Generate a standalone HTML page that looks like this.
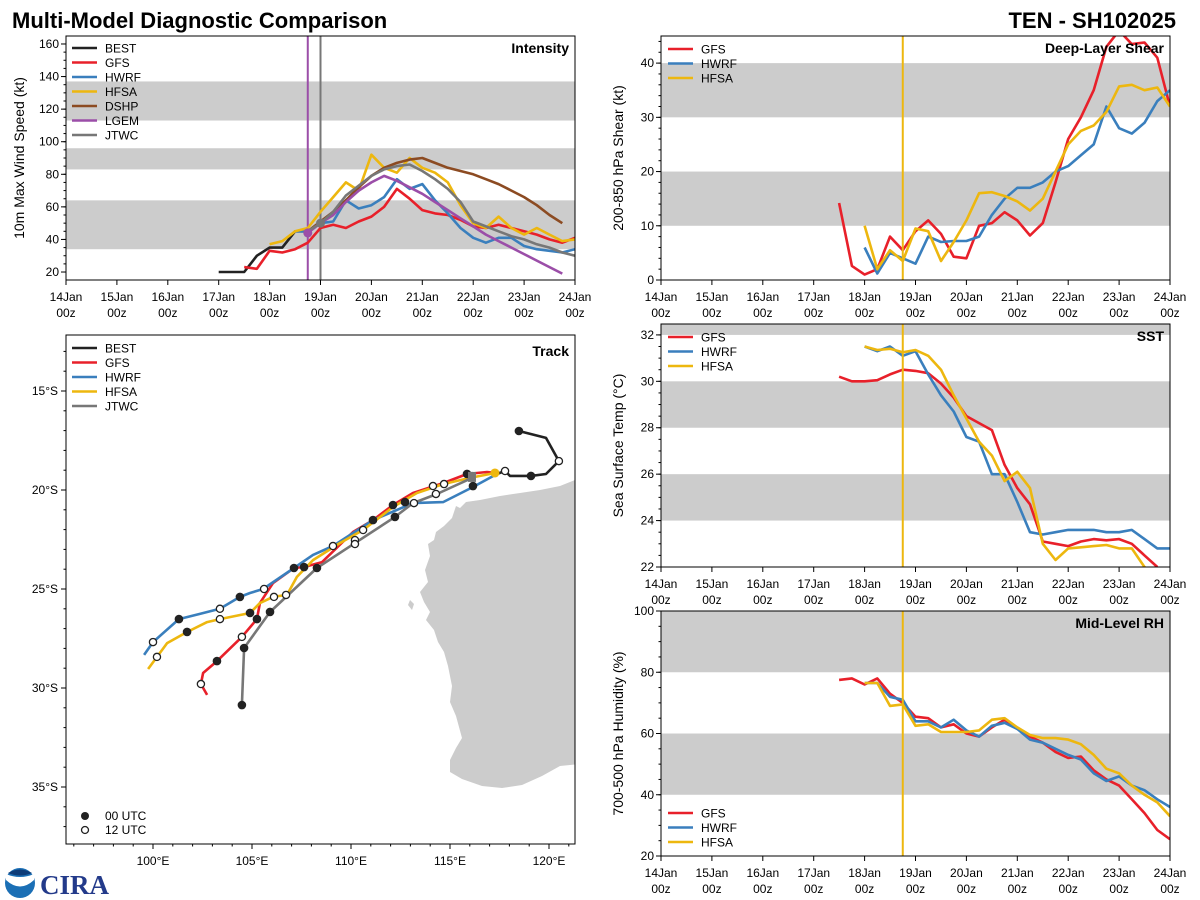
<!DOCTYPE html>
<html><head><meta charset="utf-8"><title>Multi-Model Diagnostic Comparison</title>
<style>
html,body{margin:0;padding:0;background:#fff;}
svg{display:block;font-family:"Liberation Sans",sans-serif;}
</style></head>
<body>
<svg id="root" width="1200" height="900" viewBox="0 0 1200 900" xmlns="http://www.w3.org/2000/svg">
<text x="12" y="28" font-size="22" font-weight="bold" fill="#000">Multi-Model Diagnostic Comparison</text>
<text x="1176" y="28" font-size="22" font-weight="bold" fill="#000" text-anchor="end">TEN - SH102025</text>
<g>
<circle cx="20" cy="883" r="15" fill="#1b6fb5"/>
<path d="M6,880 Q20,893 34,880 L34,874 Q20,880 6,874 Z" fill="#fff"/>
<path d="M8,873 Q20,866 32,873 Q20,878 8,873 Z" fill="#0d3c78"/>
<text x="40" y="894" font-size="27" font-weight="bold" fill="#233a8a" font-family="Liberation Serif, serif">CIRA</text>
</g>
</svg>
<script>
// ---------- DATA ----------
const dayLabels = ["14Jan","15Jan","16Jan","17Jan","18Jan","19Jan","20Jan","21Jan","22Jan","23Jan","24Jan"];
const bestIntStart = 3.0;
const bestInt = [20,20,20,30,35,35,45,45];
const gfsIntStart = 3.5;
const gfsInt = [23,22,33,32,34,38,47,49,47,51,54,60,71,65,58,56,55,52,48,47,49,47,45,43,40,38,41];
const hwrfIntStart = 4.5;
const hwrfInt = [45,45,50,51,64,59,61,66,77,71,74,64,56,47,41,38,41,41,36,34,33,32,34];
const hfsaIntStart = 4.0;
const hfsaInt = [37,39,45,47,57,66,75,70,92,84,81,90,84,81,75,61,50,47,54,47,43,47,43,39,40];
const dshpIntStart = 4.75;
const dshpInt = [45,51,57,64,72,79,84,87,89,90,87,84,82,80,77,74,70,66,61,55,50];
const lgemIntStart = 4.75;
const lgemInt = [44,50,55,63,70,75,79,76,72,68,63,58,53,48,43,39,35,31,27,23,19];
const jtwcIntStart = 4.75;
const jtwcInt = [45,50,57,67,73,79,83,85,86,82,77,71,63,51,48,45,42,40,37,35,32,30];
const gfsShearStart = 3.5;
const gfsShear = [14.2,2.6,1.0,2,8,5.5,9,11,8.5,4.3,4,10,10.5,12.5,11,8.2,10.5,18,26,30,35,43,46,43.5,43.8,41,32];
const hwrfShearStart = 4.0;
const hwrfShear = [6,1.2,5,4,3,8,7,7.2,7.2,8,12,15,17,17,18,20,21,23,25,32,28,27,29,33,35];
const hfsaShearStart = 4.0;
const hfsaShear = [10,2,5.5,3.5,9.5,9,3.5,7,11,16,16.2,15.5,14.5,12.8,15,20,25,27.5,28.5,31,35.7,36,35,35.5,32];
const gfsSstStart = 3.5;
const gfsSst = [30.2,30.0,30.0,30.05,30.3,30.5,30.45,30.35,29.9,29.3,28.5,28.2,27.9,26.4,25.4,24.7,23.1,23.0,22.9,23.1,23.2,23.15,23.2,23.0,22.5,22.0];
const hwrfSstStart = 4.0;
const hwrfSst = [31.5,31.3,31.5,31.1,31.3,30.3,29.4,28.7,27.6,27.4,26.0,26.0,24.8,23.5,23.4,23.5,23.6,23.6,23.6,23.5,23.5,23.6,23.2,22.8,22.8];
const hfsaSstStart = 4.0;
const hfsaSst = [31.5,31.35,31.4,31.25,31.35,31.1,30.5,29.4,28.4,27.4,26.8,25.7,26.1,25.4,23.0,22.3,22.8,22.85,22.9,22.95,22.8,22.8,22.0,21.5];
const gfsRhStart = 3.5;
const gfsRh = [77.5,78,76,78,73,70,65.5,65,62,63,60,59,62,64.5,61.5,59,57,54,52,52.5,48,45,43,38.5,34,28.5,25.5];
const hwrfRhStart = 4.0;
const hwrfRh = [76.5,76.5,72,71,64,64,62,64.5,61,59,62.5,63.5,61.5,58,57,55,53,51.5,47,44.5,46,43,41.5,38.5,36];
const hfsaRhStart = 4.0;
const hfsaRh = [76.5,76.5,69,69.5,62.5,63,60.5,60.5,60.5,61,64.5,65,62,59.5,58.5,58.5,58,56.5,53,48.5,47,43,40,37.5,33];
const bestLon = [118.48,119.85,120.5,119.85,119.09,118.03,117.78,117.37];
const bestLat = [17.02,17.37,18.54,19.19,19.29,19.29,19.04,19.19];
const gfsLon = [117.37,116.87,115.86,114.65,113.13,112.12,111.11,110.10,108.54,107.63,107.12,106.06,105.40,105.25,104.49,103.23,102.53,102.42,102.73];
const gfsLat = [19.14,19.09,19.19,19.65,20.15,20.76,21.52,22.12,23.64,23.89,23.94,24.70,25.71,26.52,27.42,28.64,29.24,29.80,30.35];
const hwrfLon = [117.37,116.16,114.65,113.13,111.11,109.09,108.08,107.12,105.56,104.90,104.39,103.38,102.37,101.31,100.0,99.55];
const hwrfLat = [19.19,19.85,20.61,20.66,21.52,22.83,23.28,23.94,25.0,25.2,25.4,26.0,26.26,26.52,27.68,28.33];
const hfsaLon = [117.27,116.01,114.65,113.33,112.12,110.61,109.44,108.08,107.27,106.77,106.06,105.40,104.90,103.38,102.73,101.72,100.71,100.20,99.75];
const hfsaLat = [19.14,19.39,19.70,20.15,20.86,22.02,22.68,23.54,24.39,25.30,25.40,25.71,26.21,26.52,26.67,27.17,27.73,28.43,29.04];
const jtwcLon = [116.16,116.11,114.34,113.13,112.22,110.20,108.28,105.91,104.60,104.49];
const jtwcLat = [19.09,19.39,20.20,20.66,21.36,22.68,23.94,26.16,27.98,30.86];
const dot00Lon = [118.48,119.09,115.86,116.16,112.12,112.73,112.22,111.11,107.12,107.63,108.28,104.39,104.90,105.25,105.91,101.31,101.72,103.23,104.60,104.49];
const dot00Lat = [17.02,19.29,19.19,19.80,20.76,20.61,21.36,21.52,23.94,23.89,23.94,25.40,26.21,26.52,26.16,26.52,27.17,28.64,27.98,30.86];
const dot12Lon = [120.50,117.78,114.14,114.70,114.29,113.18,110.61,110.20,110.20,109.09,105.61,106.11,106.72,103.38,103.38,104.49,100.0,100.20,102.42];
const dot12Lat = [18.54,19.04,19.80,19.70,20.20,20.66,22.02,22.53,22.73,22.83,25.0,25.40,25.30,26.0,26.52,27.42,27.68,28.43,29.80];
const lonTicks = [100,105,110,115,120];
const latTicks = [15,20,25,30,35];

// ---------- DRAWING ----------
const NS = "http://www.w3.org/2000/svg";
const root = document.getElementById("root");
const C = {BEST:"#222222",GFS:"#e8202a",HWRF:"#3a7fbd",HFSA:"#edb70f",DSHP:"#8c4b22",LGEM:"#9b4ea8",JTWC:"#777777"};
function mk(tag, parent){const e=document.createElementNS(NS,tag);parent.appendChild(e);return e;}
function set(e,a){for(const k in a)e.setAttribute(k,a[k]);return e;}

function makePanel(key,x0,y0,x1,y1,vmin,vmax){
  const g=mk("g",root);
  
  
  const clip=mk("clipPath",g);set(clip,{id:"clip-"+key});
  const cr=mk("rect",clip);set(cr,{x:x0,y:y0,width:x1-x0,height:y1-y0});
  
  
  const body=mk("g",g);set(body,{"clip-path":"url(#clip-"+key+")"});
  
  
  return {g:g,body:body,x0:x0,y0:y0,x1:x1,y1:y1,
    tx:t=>x0+t*(x1-x0)/10,
    vy:v=>y1-(v-vmin)*(y1-y0)/(vmax-vmin)};
}
function frame(P,key){
  const r=mk("rect",P.g);set(r,{x:P.x0,y:P.y0,width:P.x1-P.x0,height:P.y1-P.y0,fill:"none",stroke:"#000","stroke-width":1});
  
  
}
function band(P,a,b,key){
  const r=mk("rect",P.body);
  const ya=P.vy(b),yb=P.vy(a);
  set(r,{x:P.x0,y:ya,width:P.x1-P.x0,height:yb-ya,fill:"#cccccc"});
  
  
}
function series(P,start,vals,color,key,w){
  const pts=vals.map((v,i)=>P.tx(start+i*0.25).toFixed(1)+","+P.vy(v).toFixed(1)).join(" ");
  const l=mk("polyline",P.body);set(l,{points:pts,fill:"none",stroke:color,"stroke-width":w||2.6,"stroke-linejoin":"round"});
  
  
}
function timeAxis(P,key){
  for(let i=0;i<=10;i++){
    const x=P.tx(i);
    const t=mk("line",P.g);set(t,{x1:x,x2:x,y1:P.y1,y2:P.y1+5,stroke:"#000"});
    
    
    const a=mk("text",P.g);set(a,{x:x,y:P.y1+21,"font-size":12,"text-anchor":"middle"});a.textContent=dayLabels[i];
    
    
    const b=mk("text",P.g);set(b,{x:x,y:P.y1+37,"font-size":12,"text-anchor":"middle"});b.textContent="00z";
    
    
  }
}
function yAxis(P,ticks,minorStep,vmin,vmax,key,title,tx){
  for(let v=Math.ceil(vmin/minorStep)*minorStep;v<=vmax+1e-6;v+=minorStep){
    const y=P.vy(v);
    const t=mk("line",P.g);set(t,{x1:P.x0-2.5,x2:P.x0,y1:y,y2:y,stroke:"#000"});
    
    
  }
  ticks.forEach(v=>{
    const y=P.vy(v);
    const t=mk("line",P.g);set(t,{x1:P.x0-5,x2:P.x0,y1:y,y2:y,stroke:"#000"});
    
    
    const a=mk("text",P.g);set(a,{x:P.x0-7,y:y+4,"font-size":12,"text-anchor":"end"});a.textContent=v;
    
    
  });
  const cy=(P.y0+P.y1)/2;
  const tt=mk("text",P.g);set(tt,{x:tx,y:cy,"font-size":14,"text-anchor":"middle",transform:"rotate(-90 "+tx+" "+cy+")"});tt.textContent=title;
  
  
}
function panelTitle(P,text,key){
  const t=mk("text",P.g);set(t,{x:P.x1-6,y:P.y0+17,"font-size":14,"font-weight":"bold","text-anchor":"end"});t.textContent=text;
  
  
}
function legend(P,x,y,names,key){
  names.forEach((n,i)=>{
    const yy=y+i*14.5;
    const l=mk("line",P.g);set(l,{x1:x,x2:x+25,y1:yy,y2:yy,stroke:C[n],"stroke-width":2.6});
    
    
    const t=mk("text",P.g);set(t,{x:x+33,y:yy+4.5,"font-size":12});t.textContent=n;
    
    
  });
}
function vline(P,t,color,key){
  const x=P.tx(t);
  const l=mk("line",P.body);set(l,{x1:x,x2:x,y1:P.y0,y2:P.y1,stroke:color,"stroke-width":2});
  
  
}

// ---- Intensity ----
const I=makePanel("intensity",66,36,575,280,15.1,164.9);
band(I,34,64,"intensity-ts");band(I,83,96,"intensity-cat2");band(I,113,137,"intensity-cat4");
vline(I,4.75,C.LGEM,"intensity-lgem-init-line");
vline(I,5.0,C.JTWC,"intensity-jtwc-init-line");
series(I,bestIntStart,bestInt,C.BEST,"intensity-best");
series(I,gfsIntStart,gfsInt,C.GFS,"intensity-gfs");
series(I,hwrfIntStart,hwrfInt,C.HWRF,"intensity-hwrf");
series(I,hfsaIntStart,hfsaInt,C.HFSA,"intensity-hfsa");
series(I,dshpIntStart,dshpInt,C.DSHP,"intensity-dshp");
series(I,lgemIntStart,lgemInt,C.LGEM,"intensity-lgem");
series(I,jtwcIntStart,jtwcInt,C.JTWC,"intensity-jtwc");
const pd=mk("circle",I.body);set(pd,{cx:I.tx(lgemIntStart),cy:I.vy(lgemInt[0]),r:4.5,fill:C.LGEM});


const gd=mk("circle",I.body);set(gd,{cx:I.tx(5.0),cy:I.vy(jtwcInt[1]),r:4.5,fill:C.JTWC});


frame(I,"intensity");
yAxis(I,[20,40,60,80,100,120,140,160],5,15.1,164.9,"intensity","10m Max Wind Speed (kt)",24);
timeAxis(I,"intensity");
panelTitle(I,"Intensity","intensity");
legend(I,72,48,["BEST","GFS","HWRF","HFSA","DSHP","LGEM","JTWC"],"intensity");

// ---- Shear ----
const S=makePanel("shear",661,36,1170,280,0,45);
band(S,10,20,"shear-low");band(S,30,40,"shear-high");
series(S,gfsShearStart,gfsShear,C.GFS,"shear-gfs");
series(S,hwrfShearStart,hwrfShear,C.HWRF,"shear-hwrf");
series(S,hfsaShearStart,hfsaShear,C.HFSA,"shear-hfsa");
vline(S,4.75,C.HFSA,"shear-init-line");
frame(S,"shear");
yAxis(S,[0,10,20,30,40],2,0,45,"shear","200-850 hPa Shear (kt)",623);
timeAxis(S,"shear");
panelTitle(S,"Deep-Layer Shear","shear");
legend(S,668,49,["GFS","HWRF","HFSA"],"shear");

// ---- SST ----
const T=makePanel("sst",661,324,1170,567,22,32.47);
band(T,24,26,"sst-low");band(T,28,30,"sst-mid");band(T,32,33,"sst-high");
series(T,gfsSstStart,gfsSst,C.GFS,"sst-gfs");
series(T,hwrfSstStart,hwrfSst,C.HWRF,"sst-hwrf");
series(T,hfsaSstStart,hfsaSst,C.HFSA,"sst-hfsa");
vline(T,4.75,C.HFSA,"sst-init-line");
frame(T,"sst");
yAxis(T,[22,24,26,28,30,32],0.5,22,32.47,"sst","Sea Surface Temp (°C)",623);
timeAxis(T,"sst");
panelTitle(T,"SST","sst");
legend(T,668,337,["GFS","HWRF","HFSA"],"sst");

// ---- RH ----
const R=makePanel("rh",661,611,1170,856,20,100);
band(R,40,60,"rh-mid");band(R,80,100,"rh-high");
series(R,gfsRhStart,gfsRh,C.GFS,"rh-gfs");
series(R,hwrfRhStart,hwrfRh,C.HWRF,"rh-hwrf");
series(R,hfsaRhStart,hfsaRh,C.HFSA,"rh-hfsa");
vline(R,4.75,C.HFSA,"rh-init-line");
frame(R,"rh");
yAxis(R,[20,40,60,80,100],5,20,100,"rh","700-500 hPa Humidity (%)",623);
timeAxis(R,"rh");
panelTitle(R,"Mid-Level RH","rh");
legend(R,668,813,["GFS","HWRF","HFSA"],"rh");

// ---- Track ----
const lx=lon=>153+(lon-100)*19.8;
const ly=lat=>391+(lat-15)*19.8;
const tg=mk("g",root);


const tclip=mk("clipPath",tg);set(tclip,{id:"clip-track"});
const tcr=mk("rect",tclip);set(tcr,{x:66,y:335,width:509,height:509});


const tb=mk("g",tg);set(tb,{"clip-path":"url(#clip-track)"});


const land=mk("path",tb);
set(land,{fill:"#cccccc",d:"M580,478 L560,486 L540,490 L520,493 L500,496 L480,500 L466,502 L460,508 L456,506 L452,518 L444,526 L436,532 L434,540 L428,544 L430,556 L425,570 L428,582 L420,592 L424,602 L430,612 L426,620 L434,630 L438,642 L444,652 L448,666 L452,686 L450,702 L456,716 L462,738 L456,748 L450,760 L450,772 L462,779 L482,786 L502,788 L522,785 L542,776 L560,766 L580,764 Z"});


const isl1=mk("path",tb);set(isl1,{fill:"#cccccc",d:"M410,600 L414,604 L412,610 L408,605 Z"});


const isl2=mk("path",tb);set(isl2,{fill:"#cccccc",d:"M532,672 L540,667 L548,670 L540,676 Z"});


function track(lons,lats,color,key){
  const pts=lons.map((v,i)=>lx(v).toFixed(1)+","+ly(lats[i]).toFixed(1)).join(" ");
  const l=mk("polyline",tb);set(l,{points:pts,fill:"none",stroke:color,"stroke-width":2.6,"stroke-linejoin":"round"});
  
  
}
track(gfsLon,gfsLat,C.GFS,"gfs");
track(hwrfLon,hwrfLat,C.HWRF,"hwrf");
track(hfsaLon,hfsaLat,C.HFSA,"hfsa");
track(jtwcLon,jtwcLat,C.JTWC,"jtwc");
track(bestLon,bestLat,C.BEST,"best");
dot00Lon.forEach((v,i)=>{
  const c=mk("circle",tb);set(c,{cx:lx(v),cy:ly(dot00Lat[i]),r:4.3,fill:"#222"});
  
  
});
dot12Lon.forEach((v,i)=>{
  const c=mk("circle",tb);set(c,{cx:lx(v),cy:ly(dot12Lat[i]),r:3.6,fill:"#fff",stroke:"#222","stroke-width":1.3});
  
  
});
const hinit=mk("circle",tb);set(hinit,{cx:lx(hfsaLon[0]),cy:ly(hfsaLat[0]),r:4.5,fill:C.HFSA});


const jinit=mk("rect",tb);set(jinit,{x:lx(jtwcLon[1])-4,y:ly(jtwcLat[1])-6,width:8,height:10,fill:C.JTWC});


const tf=mk("rect",tg);set(tf,{x:66,y:335,width:509,height:509,fill:"none",stroke:"#000"});


for(let lo=96;lo<=121;lo++){
  const x=lx(lo);
  const major=lonTicks.includes(lo);
  const t=mk("line",tg);set(t,{x1:x,x2:x,y1:844,y2:major?849:846.5,stroke:"#000"});
  
  
}
lonTicks.forEach(lo=>{
  const a=mk("text",tg);set(a,{x:lx(lo),y:865,"font-size":12,"text-anchor":"middle"});a.textContent=lo+"°E";
  
  
});
for(let la=13;la<=37;la++){
  const y=ly(la);
  const major=latTicks.includes(la);
  const t=mk("line",tg);set(t,{x1:major?61:63.5,x2:66,y1:y,y2:y,stroke:"#000"});
  
  
}
latTicks.forEach(la=>{
  const a=mk("text",tg);set(a,{x:58,y:ly(la)+4,"font-size":12,"text-anchor":"end"});a.textContent=la+"°S";
  
  
});
const tt=mk("text",tg);set(tt,{x:569,y:356,"font-size":14,"font-weight":"bold","text-anchor":"end"});tt.textContent="Track";


["BEST","GFS","HWRF","HFSA","JTWC"].forEach((n,i)=>{
  const yy=348+i*14.5;
  const l=mk("line",tg);set(l,{x1:72,x2:97,y1:yy,y2:yy,stroke:C[n],"stroke-width":2.6});
  
  
  const t=mk("text",tg);set(t,{x:105,y:yy+4.5,"font-size":12});t.textContent=n;
  
  
});
const m0=mk("circle",tg);set(m0,{cx:85,cy:816,r:4,fill:"#222"});


const m0t=mk("text",tg);set(m0t,{x:105,y:820,"font-size":12});m0t.textContent="00 UTC";


const m1=mk("circle",tg);set(m1,{cx:85,cy:830,r:3.5,fill:"#fff",stroke:"#222","stroke-width":1.3});


const m1t=mk("text",tg);set(m1t,{x:105,y:834,"font-size":12});m1t.textContent="12 UTC";


</script>
</body></html>
